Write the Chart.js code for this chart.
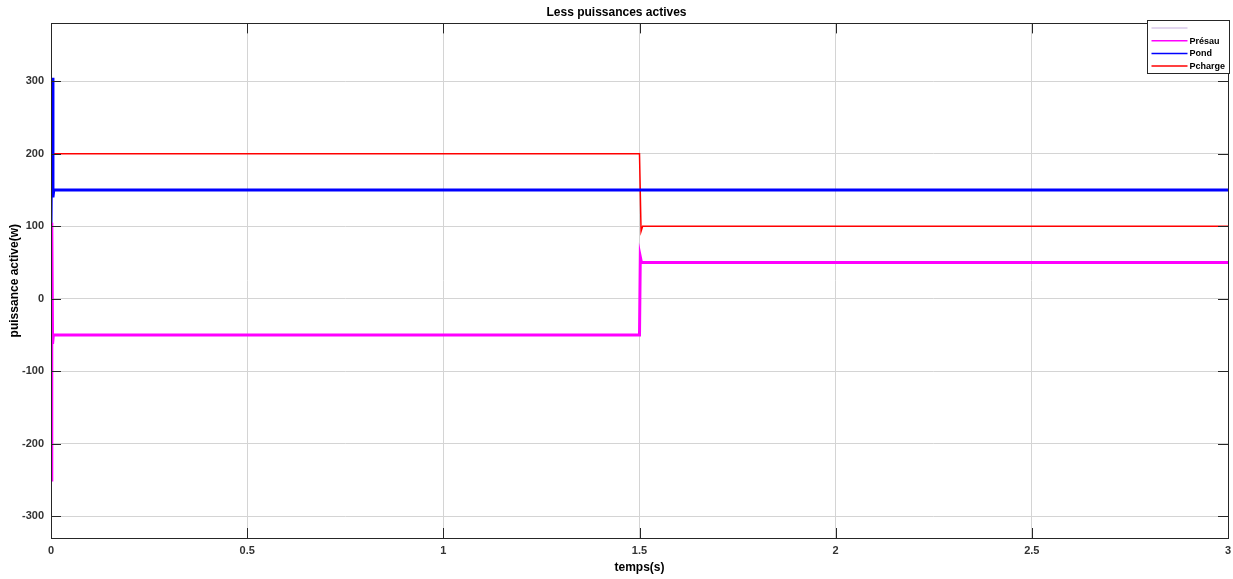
<!DOCTYPE html>
<html>
<head>
<meta charset="utf-8">
<script src="https://cdn.jsdelivr.net/npm/chart.js@4"></script>
<style>
  html, body { margin: 0; padding: 0; background: #fff; }
  #wrap { width: 1233px; height: 579px; }
</style>
</head>
<body>
<div id="wrap"><canvas id="c" width="1233" height="579"></canvas></div>
<script>
// values (t in s, P in W)
const presauT = [0, 0.002, 0.004, 0.006, 0.009, 1.5, 1.502, 1.505, 1.51, 3];
const presauP = [-250, 105, -62, -50, -50, -50, 58, 50, 50, 50];
const pondT = [0, 0.003, 0.005, 0.007, 0.01, 1.5, 3];
const pondP = [100, 305, 140, 150, 150, 150, 150];
const pchargeT = [0, 1.5, 1.504, 1.508, 3];
const pchargeP = [200, 200, 93, 100, 100];
const xTicks = [0, 0.5, 1, 1.5, 2, 2.5, 3];
const yTicks = [-300, -200, -100, 0, 100, 200, 300];

const pts = (ts, vs) => ts.map((t, i) => ({ x: t, y: vs[i] }));
const FONT = "'Liberation Sans', Arial, sans-serif";

// MATLAB-like frame, inward ticks and inside legend
const matlabBox = {
    id: 'matlabBox',
    afterDraw(chart) {
        const { ctx, chartArea: a, scales } = chart;
        ctx.save();
        ctx.strokeStyle = '#262626';
        ctx.lineWidth = 1;
        ctx.beginPath();
        scales.x.ticks.forEach(t => {
            const px = Math.round(scales.x.getPixelForValue(t.value)) + 0.5;
            ctx.moveTo(px, a.bottom); ctx.lineTo(px, a.bottom - 10);
            ctx.moveTo(px, a.top); ctx.lineTo(px, a.top + 10);
        });
        scales.y.ticks.forEach(t => {
            const py = Math.round(scales.y.getPixelForValue(t.value)) + 0.5;
            ctx.moveTo(a.left, py); ctx.lineTo(a.left + 10, py);
            ctx.moveTo(a.right, py); ctx.lineTo(a.right - 10, py);
        });
        ctx.stroke();
        ctx.strokeStyle = '#262626';
        ctx.strokeRect(Math.round(a.left) + 0.5, Math.round(a.top) + 0.5,
            Math.round(a.right - a.left), Math.round(a.bottom - a.top));

        // legend box
        const bx = 1147.5, by = 20.5, bw = 82, bh = 53;
        ctx.fillStyle = '#fff';
        ctx.fillRect(bx, by, bw, bh);
        ctx.strokeStyle = '#262626';
        ctx.strokeRect(bx, by, bw, bh);
        ctx.font = 'bold 9px ' + FONT;
        ctx.textBaseline = 'middle';
        const ds = chart.data.datasets;
        const order = [3, 0, 1, 2];
        order.forEach((k, i) => {
            const y = by + 7.5 + i * 12.7;
            ctx.strokeStyle = ds[k].borderColor;
            ctx.lineWidth = 1.5;
            ctx.beginPath();
            ctx.moveTo(bx + 4, y); ctx.lineTo(bx + 40, y);
            ctx.stroke();
            ctx.fillStyle = '#000';
            ctx.fillText(ds[k].label, bx + 42, y + 0.5);
        });
        ctx.restore();
    }
};

new Chart(document.getElementById('c'), {
    type: 'line',
    data: {
        datasets: [
            { label: 'Présau', data: pts(presauT, presauP), borderColor: '#ff00ff', borderWidth: 3 },
            { label: 'Pond', data: pts(pondT, pondP), borderColor: '#0000ff', borderWidth: 3 },
            { label: 'Pcharge', data: pts(pchargeT, pchargeP), borderColor: '#ff0000', borderWidth: 1.5 },
            { label: '', data: [], borderColor: '#d9c8ea', borderWidth: 1 }
        ]
    },
    options: {
        responsive: false,
        animation: false,
        layout: { padding: 0 },
        elements: { point: { radius: 0 }, line: { tension: 0 } },
        plugins: {
            legend: { display: false },
            tooltip: { enabled: false },
            title: {
                display: true,
                text: 'Less puissances actives',
                color: '#000',
                font: { family: FONT, size: 12, weight: 'bold' },
                padding: { top: 5, bottom: 4 }
            }
        },
        scales: {
            x: {
                type: 'linear',
                min: 0, max: 3,
                afterBuildTicks: s => { s.ticks = xTicks.map(v => ({ value: v })); },
                afterFit: s => { s.height = 41; s.paddingLeft = 0; s.paddingRight = 5; },
                grid: { color: '#d4d4d4', drawTicks: false },
                border: { display: false },
                ticks: {
                    color: '#333',
                    padding: 6,
                    maxRotation: 0,
                    callback: v => String(v),
                    font: { family: FONT, size: 11, weight: 'bold' }
                },
                title: {
                    display: true,
                    text: 'temps(s)',
                    color: '#000',
                    font: { family: FONT, size: 12, weight: 'bold' },
                    padding: { top: 0, bottom: 4 }
                }
            },
            y: {
                min: -330, max: 380,
                afterBuildTicks: s => { s.ticks = yTicks.map(v => ({ value: v })); },
                afterFit: s => { s.width = 51; },
                grid: { color: '#d4d4d4', drawTicks: false },
                border: { display: false },
                ticks: {
                    color: '#333',
                    padding: 7,
                    font: { family: FONT, size: 11, weight: 'bold' }
                },
                title: {
                    display: true,
                    text: 'puissance active(w)',
                    color: '#000',
                    font: { family: FONT, size: 12, weight: 'bold' },
                    padding: { top: 7, bottom: 0 }
                }
            }
        }
    },
    plugins: [matlabBox]
});
</script>
</body>
</html>
